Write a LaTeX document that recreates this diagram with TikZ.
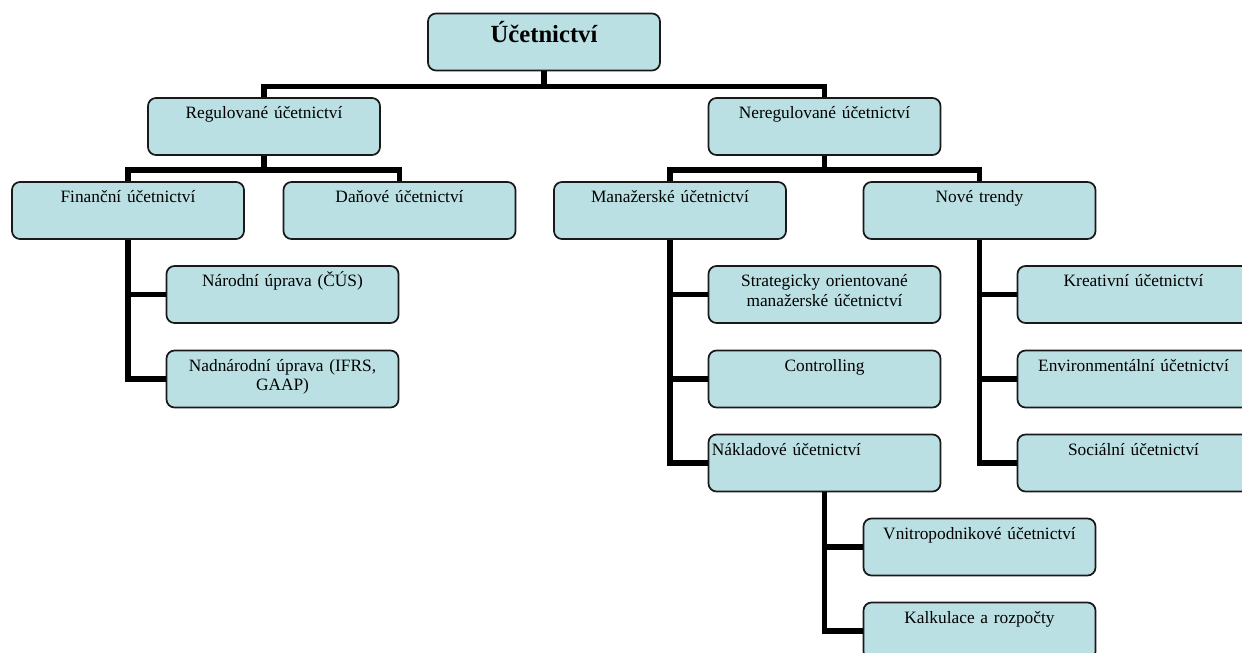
\documentclass[tikz,border=0pt]{standalone}
\usepackage{fontspec}
\setmainfont{Liberation Serif}
\usepackage{tikz}

\definecolor{boxfill}{RGB}{187,224,227}

\begin{document}
\begin{tikzpicture}[x=0.75pt, y=-0.75pt,
    box/.style={draw=black!90, line width=1.3pt, fill=boxfill, rounded corners=6pt,
        minimum width=174pt, minimum height=42.75pt, text width=169pt, align=center,
        inner xsep=2.5pt, inner ysep=3pt, text height=12.5pt, text depth=24.25pt,
        font=\fontsize{13}{14.5}\selectfont},
    topbox/.style={box, text height=18pt, text depth=18pt,
        font=\fontsize{18.5}{22}\selectfont\bfseries},
    link/.style={line width=4.2pt}]
    \useasboundingbox (0,0) rectangle (1242,653);
    \clip (0,0) rectangle (1242,653);

    \node[topbox] (ucet) at (544,42) {Účetnictví};

    \node[box] (reg) at (264,126.5) {Regulované účetnictví};
    \node[box] (nereg) at (824.5,126.5) {Neregulované účetnictví};

    \node[box] (fin) at (128,210.5) {Finanční účetnictví};
    \node[box] (dan) at (399.5,210.5) {Daňové účetnictví};
    \node[box] (man) at (670,210.5) {Manažerské účetnictví};
    \node[box] (trendy) at (979.5,210.5) {Nové trendy};

    \node[box] (narod) at (282.5,294.5) {Národní úprava (ČÚS)};
    \node[box] (nadnar) at (282.5,379) {Nadnárodní úprava (IFRS,\\ GAAP)};

    \node[box] (strat) at (824.5,294.5) {Strategicky orientované\\ manažerské účetnictví};
    \node[box] (contr) at (824.5,379) {Controlling};
    \node[box, align=left] (nakl) at (824.5,463) {Nákladové účetnictví};

    \node[box] (kreat) at (1133.5,294.5) {Kreativní účetnictví};
    \node[box] (envir) at (1133.5,379) {Environmentální účetnictví};
    \node[box] (social) at (1133.5,463) {Sociální účetnictví};

    \node[box] (vnitro) at (979.5,547) {Vnitropodnikové účetnictví};
    \node[box] (kalk) at (979.5,631) {Kalkulace a rozpočty};

    % top levels
    \draw[link] (ucet.south) -- ++(0,15) -| (reg.north);
    \draw[link] (ucet.south) -- ++(0,15) -| (nereg.north);
    \draw[link] (reg.south) -- ++(0,14) -| (fin.north);
    \draw[link] (reg.south) -- ++(0,14) -| (dan.north);
    \draw[link] (nereg.south) -- ++(0,14) -| (man.north);
    \draw[link] (nereg.south) -- ++(0,14) -| (trendy.north);

    % side trunks
    \foreach \c in {narod,nadnar}
        \draw[link] (fin.south) |- (\c.west);
    \foreach \c in {strat,contr,nakl}
        \draw[link] (man.south) |- (\c.west);
    \foreach \c in {kreat,envir,social}
        \draw[link] (trendy.south) |- (\c.west);
    \foreach \c in {vnitro,kalk}
        \draw[link] (nakl.south) |- (\c.west);
\end{tikzpicture}
\end{document}
